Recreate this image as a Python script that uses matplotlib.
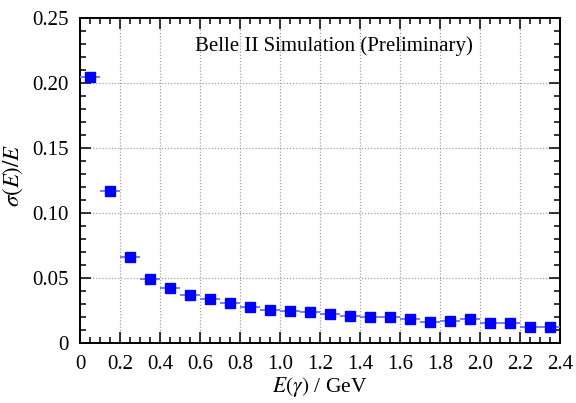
import matplotlib
matplotlib.use("Agg")
import matplotlib.pyplot as plt
from matplotlib.ticker import MultipleLocator

plt.rcParams['font.family'] = ['Liberation Serif', 'DejaVu Serif']
plt.rcParams['mathtext.fontset'] = 'stix'

energy = [0.05, 0.15, 0.25, 0.35, 0.45, 0.55, 0.65, 0.75, 0.85, 0.95,
          1.05, 1.15, 1.25, 1.35, 1.45, 1.55, 1.65, 1.75, 1.85, 1.95,
          2.05, 2.15, 2.25, 2.35]
resolution = [0.205, 0.117, 0.0665, 0.0495, 0.042, 0.0372, 0.0336, 0.0305, 0.0279, 0.0254,
              0.0249, 0.0241, 0.0222, 0.0208, 0.0198, 0.0198, 0.0182, 0.0164, 0.0172, 0.0182,
              0.0156, 0.0156, 0.0125, 0.0120]
bin_halfwidth = [0.05] * len(energy)
xticks = [0.0, 0.2, 0.4, 0.6, 0.8, 1.0, 1.2, 1.4, 1.6, 1.8, 2.0, 2.2, 2.4]
xticklabels = ['0', '0.2', '0.4', '0.6', '0.8', '1.0', '1.2', '1.4', '1.6', '1.8', '2.0', '2.2', '2.4']
yticks = [0.0, 0.05, 0.10, 0.15, 0.20, 0.25]
yticklabels = ['0', '0.05', '0.10', '0.15', '0.20', '0.25']

fig = plt.figure(figsize=(5.76, 4.03), dpi=100)
ax = fig.add_axes([0.139, 0.149, 0.833, 0.806])

ax.errorbar(energy, resolution, xerr=bin_halfwidth, fmt='s', color='#0000ff',
            ecolor='#6f6fff', elinewidth=1.3, markersize=6.8, capsize=0, zorder=3)

ax.set_xticks(xticks)
ax.set_xticklabels(xticklabels)
ax.set_yticks(yticks)
ax.set_yticklabels(yticklabels)
ax.xaxis.set_minor_locator(MultipleLocator(0.05))
ax.yaxis.set_minor_locator(MultipleLocator(0.01))
ax.set_xlim(0, 2.4)
ax.set_ylim(0, 0.25)

ax.tick_params(which='both', direction='in', top=True, right=True, labelsize=15, width=1.1)
ax.tick_params(which='major', length=8)
ax.tick_params(which='minor', length=4)
ax.tick_params(axis='x', pad=9)
ax.tick_params(axis='y', pad=8)
for s in ax.spines.values():
    s.set_linewidth(1.4)

ax.grid(True, which='major', linestyle=(0, (1, 1.5)), color='#a0a0a0', linewidth=0.9)
ax.set_axisbelow(True)

ax.set_xlabel(r'$E(\gamma)$ / GeV', fontsize=15.5)
ax.xaxis.set_label_coords(0.5, -0.1)
ax.set_ylabel(r'$\sigma(E)/E$', fontsize=16.5)
ax.yaxis.set_label_coords(-0.114, 0.517)
ax.text(0.529, 0.913, 'Belle II Simulation (Preliminary)', transform=ax.transAxes,
        fontsize=15, ha='center', va='center')

fig.savefig('out.png', dpi=100)
